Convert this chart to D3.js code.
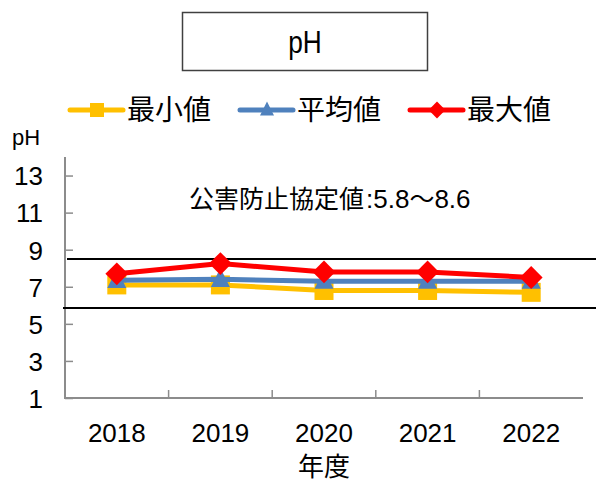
<!DOCTYPE html>
<html><head><meta charset="utf-8">
<script src="https://cdn.jsdelivr.net/npm/d3@7"></script>
<style>
html,body{margin:0;padding:0;background:#fff;}
svg{display:block;}
</style></head>
<body>
<script>
const years = ["2018","2019","2020","2021","2022"];
const minVals = [7.1, 7.1, 6.8, 6.8, 6.7];
const avgVals = [7.35, 7.4, 7.3, 7.3, 7.3];
const maxVals = [7.7, 8.25, 7.8, 7.8, 7.5];
const yTicks = [1,3,5,7,9,11,13];
const thresholds = [8.5, 5.85];
const seriesNames = ["最小値","平均値","最大値"];
const seriesColors = ["#FFC000","#4F81BD","#FF0000"];
const seriesShapes = ["square","triangle","diamond"];

const W = 596, H = 484;
const svg = d3.select("body").append("svg").attr("width", W).attr("height", H);
const latin = "'Liberation Sans', Arial, sans-serif";
const cjk = "'Noto Sans CJK JP', sans-serif";

const x = d3.scaleBand().domain(years).range([65, 583]);
const y = d3.scaleLinear().domain([1, 14]).range([398, 157]);

// title box
svg.append("rect").attr("x", 182.5).attr("y", 12.5).attr("width", 245).attr("height", 58)
  .attr("fill", "#fff").attr("stroke", "#404040").attr("stroke-width", 1.5);
svg.append("text").attr("transform", "translate(305,53) scale(0.82,1)").attr("text-anchor", "middle")
  .attr("font-family", latin).attr("font-size", 32).attr("fill", "#000").text("pH");

// axes
const axisColor = "#8c8c8c";
const gy = svg.append("g").attr("transform", "translate(65,0)")
  .call(d3.axisLeft(y).tickValues(yTicks).tickSize(-8).tickPadding(0).tickFormat(d3.format("d")));
gy.select(".domain").attr("stroke", axisColor).attr("stroke-width", 2).attr("d", `M0,${y(14)}V${y(1)}`);
gy.selectAll(".tick line").attr("stroke", axisColor).attr("stroke-width", 1.5);
gy.selectAll(".tick text").attr("x", -22).attr("dy", "0.36em").attr("font-family", latin)
  .attr("font-size", 26).attr("fill", "#000");

const gx = svg.append("g").attr("transform", "translate(0,398)");
gx.append("line").attr("x1", 64).attr("x2", 583).attr("y1", 0).attr("y2", 0)
  .attr("stroke", axisColor).attr("stroke-width", 2);
gx.selectAll("line.tk").data(years.slice(1)).join("line").attr("class", "tk")
  .attr("x1", d => x(d)).attr("x2", d => x(d)).attr("y1", 0).attr("y2", -8)
  .attr("stroke", axisColor).attr("stroke-width", 1.5);
gx.selectAll("text").data(years).join("text")
  .attr("x", d => x(d) + x.bandwidth() / 2).attr("y", 44).attr("text-anchor", "middle")
  .attr("font-family", latin).attr("font-size", 26).attr("fill", "#000").text(d => d);

// axis titles
svg.append("text").attr("x", 12).attr("y", 145).attr("font-family", latin).attr("font-size", 22).attr("fill", "#000").text("pH");
svg.append("text").attr("x", 324).attr("y", 476).attr("text-anchor", "middle").attr("font-family", cjk)
  .attr("font-size", 26).attr("fill", "#000").text("年度");

// threshold lines
svg.selectAll("line.th").data(thresholds).join("line").attr("class", "th")
  .attr("x1", (d, i) => i === 0 ? 67 : 63).attr("x2", 596)
  .attr("y1", d => y(d)).attr("y2", d => y(d)).attr("stroke", "#000").attr("stroke-width", 2);

// annotation
const ann = svg.append("text").attr("x", 189).attr("y", 208).attr("font-family", cjk).attr("font-size", 25)
  .attr("fill", "#000");
ann.append("tspan").text("公害防止協定値");
ann.append("tspan").attr("font-family", latin).attr("font-size", 26).attr("dx", 2).text(":5.8");
ann.append("tspan").text("〜");
ann.append("tspan").attr("font-family", latin).attr("font-size", 26).text("8.6");

// series
const allVals = [minVals, avgVals, maxVals];
const cx = i => x(years[i]) + x.bandwidth() / 2;
function marker(g, shape, color, px, py, s) {
  if (shape === "square") {
    g.append("rect").attr("x", px - s / 2).attr("y", py - s / 2).attr("width", s).attr("height", s).attr("fill", color);
  } else if (shape === "triangle") {
    const h = s;
    g.append("path").attr("d", `M${px},${py - h * 0.6}L${px + s / 2},${py + h * 0.4}L${px - s / 2},${py + h * 0.4}Z`).attr("fill", color);
  } else {
    const r = s * 0.6;
    g.append("path").attr("d", `M${px},${py - r}L${px + r},${py}L${px},${py + r}L${px - r},${py}Z`).attr("fill", color);
  }
}
allVals.forEach((vals, si) => {
  const g = svg.append("g");
  const line = d3.line().x((d, i) => cx(i)).y(d => y(d));
  g.append("path").datum(vals).attr("d", line).attr("fill", "none")
    .attr("stroke", seriesColors[si]).attr("stroke-width", 5).attr("stroke-linejoin", "round");
  vals.forEach((v, i) => marker(g, seriesShapes[si], seriesColors[si], cx(i), y(v), 19));
});

// legend
const legendX = [70, 240, 410];
seriesNames.forEach((name, si) => {
  const g = svg.append("g");
  const lx = legendX[si], ly = 110;
  g.append("line").attr("x1", lx).attr("x2", lx + 53).attr("y1", ly).attr("y2", ly)
    .attr("stroke", seriesColors[si]).attr("stroke-width", 5).attr("stroke-linecap", "round");
  marker(g, seriesShapes[si], seriesColors[si], lx + 27, ly, 14);
  g.append("text").attr("x", lx + 57).attr("y", ly + 10).attr("font-family", cjk).attr("font-size", 28)
    .attr("fill", "#000").text(name);
});
</script>
</body></html>
